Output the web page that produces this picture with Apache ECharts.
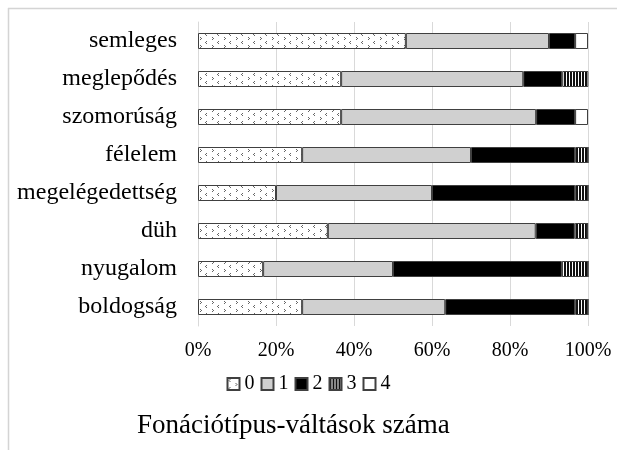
<!DOCTYPE html>
<html>
<head>
<meta charset="utf-8">
<script src="https://cdn.jsdelivr.net/npm/echarts@6/dist/echarts.min.js"></script>
<style>
  html, body { margin: 0; padding: 0; background: #fff; }
  #chart { width: 617px; height: 450px; }
</style>
</head>
<body>
<div id="chart"></div>
<script>
var categories = ['semleges', 'meglepődés', 'szomorúság', 'félelem', 'megelégedettség', 'düh', 'nyugalom', 'boldogság'];
var seriesNames = ['0', '1', '2', '3', '4'];
// shares in percent
var v0 = [53.3, 36.7, 36.7, 26.7, 20.0, 33.3, 16.7, 26.7];
var v1 = [36.7, 46.7, 50.0, 43.3, 40.0, 53.3, 33.3, 36.7];
var v2 = [6.7, 10.0, 10.0, 26.7, 36.7, 10.0, 43.3, 33.3];
var v3 = [0, 6.7, 0, 3.3, 3.3, 3.3, 6.7, 3.3];
var v4 = [3.3, 0, 3.3, 0, 0, 0, 0, 0];
var ticks = ['0%', '20%', '40%', '60%', '80%', '100%'];

function dotPattern() {
    var c = document.createElement('canvas');
    c.width = 12; c.height = 8;
    var ctx = c.getContext('2d');
    ctx.fillStyle = '#ffffff';
    ctx.fillRect(0, 0, 12, 8);
    ctx.fillStyle = '#666666';
    ctx.fillRect(2, 1, 1, 1);
    ctx.fillRect(1, 2, 1, 1);
    ctx.fillRect(2, 3, 1, 1);
    ctx.fillRect(8, 5, 1, 1);
    ctx.fillRect(9, 6, 1, 1);
    ctx.fillRect(8, 7, 1, 1);
    return c;
}
function stripePattern() {
    var c = document.createElement('canvas');
    c.width = 3; c.height = 4;
    var ctx = c.getContext('2d');
    ctx.fillStyle = '#ffffff';
    ctx.fillRect(0, 0, 3, 4);
    ctx.fillStyle = '#111111';
    ctx.fillRect(0, 0, 2, 4);
    return c;
}

var fills = [
    { image: dotPattern(), repeat: 'repeat' },
    '#d0d0d0',
    '#000000',
    { image: stripePattern(), repeat: 'repeat' },
    '#ffffff'
];
var values = [v0, v1, v2, v3, v4];

var myChart = echarts.init(document.getElementById('chart'));
var font = '"Liberation Serif", "Times New Roman", serif';

myChart.setOption({
    backgroundColor: '#fff',
    animation: false,
    textStyle: { fontFamily: font },
    grid: { left: 198, right: 29, top: 22, bottom: 124 },
    legend: {
        data: seriesNames,
        left: 'center',
        top: 369,
        itemWidth: 12,
        itemHeight: 12,
        itemGap: 6,
        icon: 'rect',
        textStyle: { fontFamily: font, fontSize: 20, color: '#000' }
    },
    graphic: [
        { type: 'line', shape: { x1: 8, y1: 8.5, x2: 617, y2: 8.5 }, style: { stroke: '#d4d4d4', lineWidth: 1.5 } },
        { type: 'line', shape: { x1: 8.5, y1: 8, x2: 8.5, y2: 450 }, style: { stroke: '#d4d4d4', lineWidth: 1.5 } },
        {
            type: 'text', left: 137, top: 412,
            style: { text: 'Fonációtípus-váltások száma', font: '27px ' + font, fill: '#000' }
        }
    ],
    xAxis: {
        type: 'value',
        min: 0,
        max: 100,
        interval: 20,
        axisLine: { show: false },
        axisTick: { show: false },
        axisLabel: {
            fontSize: 20, color: '#000', margin: 15,
            formatter: function (v) { return ticks[v / 20]; }
        },
        splitLine: { lineStyle: { color: '#d9d9d9', width: 1 } }
    },
    yAxis: {
        type: 'category',
        data: categories,
        inverse: true,
        axisLine: { lineStyle: { color: '#d9d9d9' } },
        axisTick: { show: false },
        axisLabel: { fontSize: 24, color: '#000', margin: 21 }
    },
    series: seriesNames.map(function (name, i) {
        return {
            name: name,
            type: 'bar',
            stack: 'total',
            barWidth: 16,
            data: values[i],
            itemStyle: { color: fills[i], borderColor: '#404040', borderWidth: 1 }
        };
    })
});
</script>
</body>
</html>
